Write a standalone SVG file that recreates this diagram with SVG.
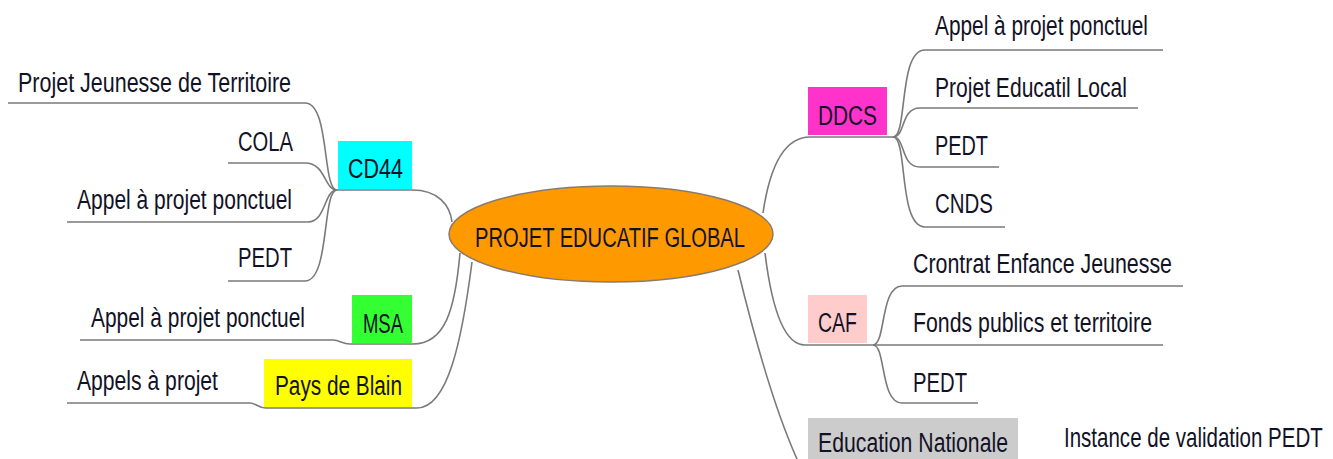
<svg xmlns="http://www.w3.org/2000/svg" width="1333" height="459" viewBox="0 0 1333 459">
<style>
.t{font-family:"Liberation Sans",Arial,sans-serif;font-size:27px;fill:#121226;}
.c{fill:none;stroke:#7a7a7a;stroke-width:1.6;}
</style>
<rect width="1333" height="459" fill="#ffffff"/>
<g id="connectors">
<path class="c" d="M8,103 L305,103 C330,103 322,190 337,190"/>
<path class="c" d="M228,163 L305,163 C326,163 324,190 337,190"/>
<path class="c" d="M67,222 L308,222 C326,222 324,190 337,190"/>
<path class="c" d="M228,281 L305,281 C330,281 322,190 337,190"/>
<path class="c" d="M333,190 L412,190 C438,190 450,205 452,222"/>
<path class="c" d="M80,340 L333,340 C340,340 342,344 350,344 L413,344 C445,344 455,310 460,253"/>
<path class="c" d="M67,403 L250,403 C256,403 258,408 266,408 L417,408 C448,408 462,340 472,262"/>
<path class="c" d="M763,213 C770,165 785,137 810,137 L893,137"/>
<path class="c" d="M893,137 C908,137 898,50 925,50 L1163,50"/>
<path class="c" d="M893,137 C906,137 900,108 920,108 L1138,108"/>
<path class="c" d="M893,137 C906,137 900,167 920,167 L999,167"/>
<path class="c" d="M893,137 C908,137 898,227 925,227 L1005,227"/>
<path class="c" d="M765,253 C772,310 785,345 805,345 L1163,345"/>
<path class="c" d="M873,345 C886,345 880,286 902,286 L1183,286"/>
<path class="c" d="M873,345 C886,345 880,403 902,403 L978,403"/>
<path class="c" d="M738,270 C755,340 775,410 797,459"/>
</g>
<g id="center">
<ellipse cx="611" cy="234" rx="162" ry="48" fill="#ff9900" stroke="#8a7a6a" stroke-width="1.5"/>
<text class="t" x="475" y="247" textLength="270" lengthAdjust="spacingAndGlyphs">PROJET EDUCATIF GLOBAL</text>
</g>
<g id="cd44">
<rect x="338" y="141" width="74" height="48" fill="#00ffff"/>
<text class="t" x="348" y="178" textLength="55" lengthAdjust="spacingAndGlyphs">CD44</text>
</g>
<g id="cd44-pjt"><text class="t" x="18" y="92" textLength="273" lengthAdjust="spacingAndGlyphs">Projet Jeunesse de Territoire</text></g>
<g id="cd44-cola"><text class="t" x="238" y="151" textLength="55" lengthAdjust="spacingAndGlyphs">COLA</text></g>
<g id="cd44-appel"><text class="t" x="77" y="209" textLength="215" lengthAdjust="spacingAndGlyphs">Appel à projet ponctuel</text></g>
<g id="cd44-pedt"><text class="t" x="238" y="267" textLength="54" lengthAdjust="spacingAndGlyphs">PEDT</text></g>
<g id="msa">
<rect x="352" y="295" width="60" height="48" fill="#33ff33"/>
<text class="t" x="363" y="333" textLength="40" lengthAdjust="spacingAndGlyphs">MSA</text>
</g>
<g id="msa-appel"><text class="t" x="91" y="327" textLength="214" lengthAdjust="spacingAndGlyphs">Appel à projet ponctuel</text></g>
<g id="blain">
<rect x="264" y="359" width="148" height="48" fill="#ffff00"/>
<text class="t" x="275" y="395" textLength="127" lengthAdjust="spacingAndGlyphs">Pays de Blain</text>
</g>
<g id="blain-appels"><text class="t" x="77" y="390" textLength="141" lengthAdjust="spacingAndGlyphs">Appels à projet</text></g>
<g id="ddcs">
<rect x="808" y="87" width="79" height="48" fill="#ff33cc"/>
<text class="t" x="818" y="125" textLength="59" lengthAdjust="spacingAndGlyphs">DDCS</text>
</g>
<g id="ddcs-appel"><text class="t" x="935" y="35" textLength="213" lengthAdjust="spacingAndGlyphs">Appel à projet ponctuel</text></g>
<g id="ddcs-pel"><text class="t" x="935" y="97" textLength="192" lengthAdjust="spacingAndGlyphs">Projet Educatil Local</text></g>
<g id="ddcs-pedt"><text class="t" x="935" y="155" textLength="53" lengthAdjust="spacingAndGlyphs">PEDT</text></g>
<g id="ddcs-cnds"><text class="t" x="935" y="213" textLength="58" lengthAdjust="spacingAndGlyphs">CNDS</text></g>
<g id="caf">
<rect x="808" y="295" width="59" height="48" fill="#ffcccc"/>
<text class="t" x="818" y="332" textLength="39" lengthAdjust="spacingAndGlyphs">CAF</text>
</g>
<g id="caf-cej"><text class="t" x="913" y="273" textLength="259" lengthAdjust="spacingAndGlyphs">Crontrat Enfance Jeunesse</text></g>
<g id="caf-fonds"><text class="t" x="913" y="332" textLength="239" lengthAdjust="spacingAndGlyphs">Fonds publics et territoire</text></g>
<g id="caf-pedt"><text class="t" x="913" y="392" textLength="54" lengthAdjust="spacingAndGlyphs">PEDT</text></g>
<g id="educnat">
<rect x="808" y="418" width="210" height="45" fill="#cccccc"/>
<text class="t" x="818" y="452" textLength="190" lengthAdjust="spacingAndGlyphs">Education Nationale</text>
</g>
<g id="educnat-instance" transform="translate(1064,447) scale(0.76,1)"><text class="t" x="0" y="0">Instance de validation PEDT</text></g>
</svg>
